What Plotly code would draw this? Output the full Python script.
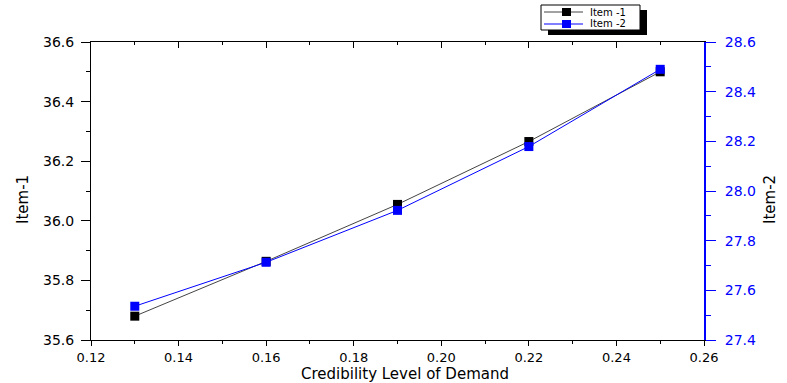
import plotly.graph_objects as go

# Credibility level of demand and the two item values
credibility = [0.13, 0.16, 0.19, 0.22, 0.25]
item1 = [35.68, 35.864, 36.055, 36.266, 36.50]
item2 = [27.536, 27.713, 27.922, 28.179, 28.49]
series_names = ["Item -1", "Item -2"]
series_colors = ["black", "blue"]
line_colors = ["#444444", "blue"]
x_title = "Credibility Level of Demand"
y_titles = ["Item-1", "Item-2"]

FONT = "DejaVu Sans, Verdana, sans-serif"
W, H = 787, 383
L, R, T, B = 91, 83, 42, 43
PW, PH = W - L - R, H - T - B


def px_x(p):
    return (p - L) / PW


def px_y(p):
    return (H - B - p) / PH


fig = go.Figure()
fig.add_trace(go.Scatter(
    x=credibility, y=item1, name=series_names[0], mode="lines+markers",
    line=dict(color=line_colors[0], width=1),
    marker=dict(symbol="square", size=9, color=series_colors[0]),
    xaxis="x", yaxis="y", showlegend=False,
))
fig.add_trace(go.Scatter(
    x=credibility, y=item2, name=series_names[1], mode="lines+markers",
    line=dict(color=line_colors[1], width=1),
    marker=dict(symbol="square", size=9, color=series_colors[1]),
    xaxis="x", yaxis="y2", showlegend=False,
))
# invisible trace so the top axis is drawn
fig.add_trace(go.Scatter(x=credibility, y=item1, xaxis="x2", yaxis="y",
                         mode="markers", marker=dict(opacity=0),
                         showlegend=False, hoverinfo="skip"))

tickfont = dict(family=FONT, size=14, color="black")

fig.update_layout(
    width=W, height=H,
    margin=dict(l=L, r=R, t=T, b=B, pad=0),
    paper_bgcolor="white", plot_bgcolor="white",
    font=dict(family=FONT, color="black"),
    showlegend=False,
    xaxis=dict(
        range=[0.12, 0.26], dtick=0.02, tickformat=".2f", automargin=False,
        showgrid=False, zeroline=False,
        showline=True, linecolor="black", linewidth=1, mirror=True,
        ticks="outside", ticklen=5, tickcolor="black",
        minor=dict(dtick=0.01, ticks="outside", ticklen=3, tickcolor="black"),
        tickfont=dict(family=FONT, size=13, color="black"), ticklabelstandoff=0,
    ),
    xaxis2=dict(
        range=[0.12, 0.26], dtick=0.02, overlaying="x", side="top", anchor="y",
        automargin=False,
        showgrid=False, zeroline=False, showticklabels=False,
        showline=True, linecolor="black", linewidth=1,
        ticks="inside", ticklen=6, tickcolor="black",
        minor=dict(dtick=0.01, ticks="inside", ticklen=3, tickcolor="black"),
    ),
    yaxis=dict(
        range=[35.6, 36.6], dtick=0.2, tickformat=".1f", automargin=False,
        showgrid=False, zeroline=False,
        showline=True, linecolor="black", linewidth=1,
        ticks="outside", ticklen=9, tickcolor="black",
        minor=dict(dtick=0.1, ticks="outside", ticklen=4, tickcolor="black"),
        tickfont=tickfont, ticklabelstandoff=4,
    ),
    yaxis2=dict(
        range=[27.4, 28.6], dtick=0.2, tickformat=".1f", automargin=False,
        overlaying="y", side="right", anchor="x",
        showgrid=False, zeroline=False,
        showline=True, linecolor="blue", linewidth=2,
        ticks="outside", ticklen=10, tickcolor="blue",
        minor=dict(dtick=0.1, ticks="outside", ticklen=5, tickcolor="blue"),
        tickfont=dict(family=FONT, size=14, color="blue"), ticklabelstandoff=6,
    ),
)

# axis titles
annotations = [
    dict(text=x_title, xref="paper", yref="paper", x=px_x(405), y=px_y(384),
         xanchor="center", yanchor="bottom", showarrow=False, borderpad=0,
         font=dict(family=FONT, size=15, color="black")),
    dict(text=y_titles[0], xref="paper", yref="paper", x=px_x(23), y=px_y(200),
         xanchor="center", yanchor="middle", showarrow=False, textangle=-90,
         font=dict(family=FONT, size=15, color="black")),
    dict(text=y_titles[1], xref="paper", yref="paper", x=px_x(770), y=px_y(200),
         xanchor="center", yanchor="middle", showarrow=False, textangle=-90,
         font=dict(family=FONT, size=15, color="black")),
]

# legend box with drop shadow
shapes = [
    dict(type="rect", xref="paper", yref="paper",
         x0=px_x(548), x1=px_x(647), y0=px_y(35), y1=px_y(10),
         fillcolor="black", line=dict(width=0), layer="above"),
    dict(type="rect", xref="paper", yref="paper",
         x0=px_x(541), x1=px_x(640), y0=px_y(30), y1=px_y(5),
         fillcolor="white", line=dict(color="black", width=1), layer="above"),
]
for i, (name, mc, lc) in enumerate(zip(series_names, series_colors, line_colors)):
    yc = 12 + 12 * i
    shapes.append(dict(type="line", xref="paper", yref="paper",
                       x0=px_x(544), x1=px_x(583), y0=px_y(yc), y1=px_y(yc),
                       line=dict(color=lc, width=1), layer="above"))
    shapes.append(dict(type="rect", xref="paper", yref="paper",
                       x0=px_x(562), x1=px_x(571), y0=px_y(yc + 4), y1=px_y(yc - 4),
                       fillcolor=mc, line=dict(width=0), layer="above"))
    annotations.append(dict(text=name, xref="paper", yref="paper",
                            x=px_x(588), y=px_y(yc), xanchor="left", yanchor="middle",
                            showarrow=False, font=dict(family=FONT, size=10, color="black")))

fig.update_layout(shapes=shapes, annotations=annotations)

fig.write_html("out.html")
